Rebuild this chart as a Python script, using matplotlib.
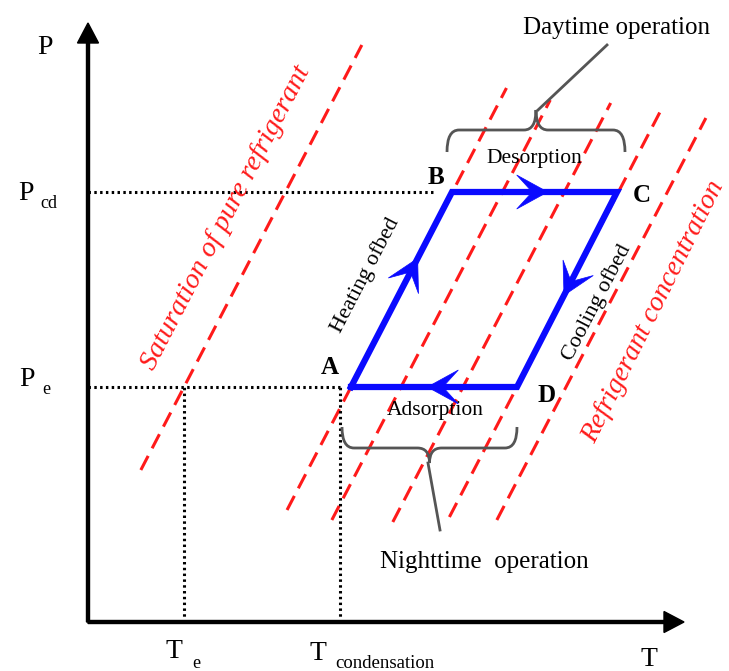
import numpy as np
import matplotlib.pyplot as plt
from matplotlib.path import Path
from matplotlib.patches import PathPatch, Polygon

plt.rcParams['font.family'] = ['Liberation Serif', 'DejaVu Serif']

# state levels of the adsorption cycle
T_e = 96
T_cond = 252
P_e = 235
P_cd = 430

# cycle corners A, B, C, D
cycle_labels = ['A', 'B', 'C', 'D']
cycle_T = [263, 364, 529, 429]
cycle_P = [P_e, P_cd, P_cd, P_e]

# isosteres: temperature where each line crosses P_e, and pressure span
iso_slope = 0.52
iso_T0 = [96, 263, 313, 375, 429, 478]
iso_Plo = [152, 112, 102, 100, 105, 102]
iso_Phi = [577, 534, 522, 519, 510, 504]

BLUE = '#0a0aff'
RED = '#ff1a1a'
GREY = '#555555'


def flow_arrow(ax, p0, p1, frac, L=31, W=17):
    p0, p1 = np.array(p0, float), np.array(p1, float)
    u = (p1 - p0) / np.linalg.norm(p1 - p0)
    n = np.array([-u[1], u[0]])
    tip = p0 + frac * (p1 - p0)
    pts = [tip, tip - L * u + W * n, tip - 0.5 * L * u, tip - L * u - W * n]
    ax.add_patch(Polygon(pts, closed=True, fc=BLUE, ec=BLUE, lw=0.5, zorder=5))


def brace(ax, x0, x1, base, bar, tip, r=12):
    xc = (x0 + x1) / 2
    verts = [(x0, base), (x0, bar), (x0 + r, bar),
             (xc - r, bar), (xc, bar), (xc, tip),
             (xc, bar), (xc + r, bar),
             (x1 - r, bar), (x1, bar), (x1, base)]
    codes = [Path.MOVETO, Path.CURVE3, Path.CURVE3,
             Path.LINETO, Path.CURVE3, Path.CURVE3,
             Path.CURVE3, Path.CURVE3,
             Path.LINETO, Path.CURVE3, Path.CURVE3]
    ax.add_patch(PathPatch(Path(verts, codes), fc='none', ec=GREY, lw=2, zorder=3))


fig = plt.figure(figsize=(7.29, 6.71), dpi=100)
ax = fig.add_axes([0, 0, 1, 1])
ax.set_xlim(-88, 641)
ax.set_ylim(-49, 622)
ax.axis('off')

# axes with arrow heads
ax.arrow(0, 0, 0, 599, width=3, head_width=21, head_length=20,
         length_includes_head=True, fc='k', ec='k', zorder=4)
ax.arrow(0, 0, 596, 0, width=3, head_width=21, head_length=20,
         length_includes_head=True, fc='k', ec='k', zorder=4)

# isosteres
for t0, plo, phi in zip(iso_T0, iso_Plo, iso_Phi):
    P = np.array([plo, phi])
    ax.plot(t0 + iso_slope * (P - P_e), P, color=RED, lw=2.2,
            dashes=(5.2, 2.8), zorder=2)

# guide lines
dot = dict(color='k', lw=2.2, linestyle=(0, (0.8, 1.1)), zorder=3)
ax.plot([0, cycle_T[1] - 18], [P_cd, P_cd], **dot)
ax.plot([0, T_cond], [P_e, P_e], **dot)
ax.plot([T_e, T_e], [0, P_e], **dot)
ax.plot([T_cond, T_cond], [0, P_e], **dot)

# cycle
ax.plot(cycle_T + cycle_T[:1], cycle_P + cycle_P[:1], color=BLUE, lw=4.5,
        solid_joinstyle='miter', zorder=4)
pts = list(zip(cycle_T, cycle_P))
flow_arrow(ax, pts[0], pts[1], 0.66)
flow_arrow(ax, pts[1], pts[2], 0.58)
flow_arrow(ax, pts[2], pts[3], 0.53)
flow_arrow(ax, pts[3], pts[0], 0.54)

label_pos = [(242, 254), (348, 445), (554, 427), (459, 226)]
for lab, (x, y) in zip(cycle_labels, label_pos):
    ax.text(x, y, lab, fontsize=18, fontweight='bold', ha='center', va='center')

ax.text(446, 464, 'Desorption', fontsize=15.5, ha='center', va='center')
ax.text(347, 211, 'Adsorption', fontsize=15.5, ha='center', va='center')

ang = np.degrees(np.arctan2(1, iso_slope))
ax.text(277, 347, 'Heating ofbed', fontsize=16, rotation=ang,
        rotation_mode='anchor', ha='center', va='center')
ax.text(509, 319, 'Cooling ofbed', fontsize=16, rotation=ang,
        rotation_mode='anchor', ha='center', va='center')
ax.text(138, 404, 'Saturation of pure refrigerant', fontsize=20.5, style='italic',
        color=RED, rotation=ang, rotation_mode='anchor', ha='center', va='center')
ax.text(565, 310, 'Refrigerant concentration', fontsize=20, style='italic',
        color=RED, rotation=ang + 1, rotation_mode='anchor', ha='center', va='center')

# operation braces
brace(ax, 359, 537, 470, 492, 512)
ax.plot([450, 519], [512, 577], color=GREY, lw=2)
ax.text(529, 594, 'Daytime operation', fontsize=18, ha='center', va='center')

brace(ax, 254, 429, 195, 174, 159)
ax.plot([340, 352], [159, 92], color=GREY, lw=2)
ax.text(396, 60, 'Nighttime  operation', fontsize=18, ha='center', va='center')

# axis labels
ax.text(-43, 574, 'P', fontsize=20, ha='center', va='center')
ax.text(-62, 429, 'P', fontsize=20, ha='center', va='center')
ax.text(-39, 418, 'cd', fontsize=13, ha='center', va='center')
ax.text(-61, 243, 'P', fontsize=20, ha='center', va='center')
ax.text(-42, 233, 'e', fontsize=13, ha='center', va='center')
ax.text(86, -30, 'T', fontsize=20, ha='center', va='center')
ax.text(108, -41, 'e', fontsize=13, ha='center', va='center')
ax.text(230, -32, 'T', fontsize=20, ha='center', va='center')
ax.text(297, -42, 'condensation', fontsize=13.5, ha='center', va='center')
ax.text(561, -38, 'T', fontsize=20, ha='center', va='center')

fig.savefig('out.png', dpi=100)
